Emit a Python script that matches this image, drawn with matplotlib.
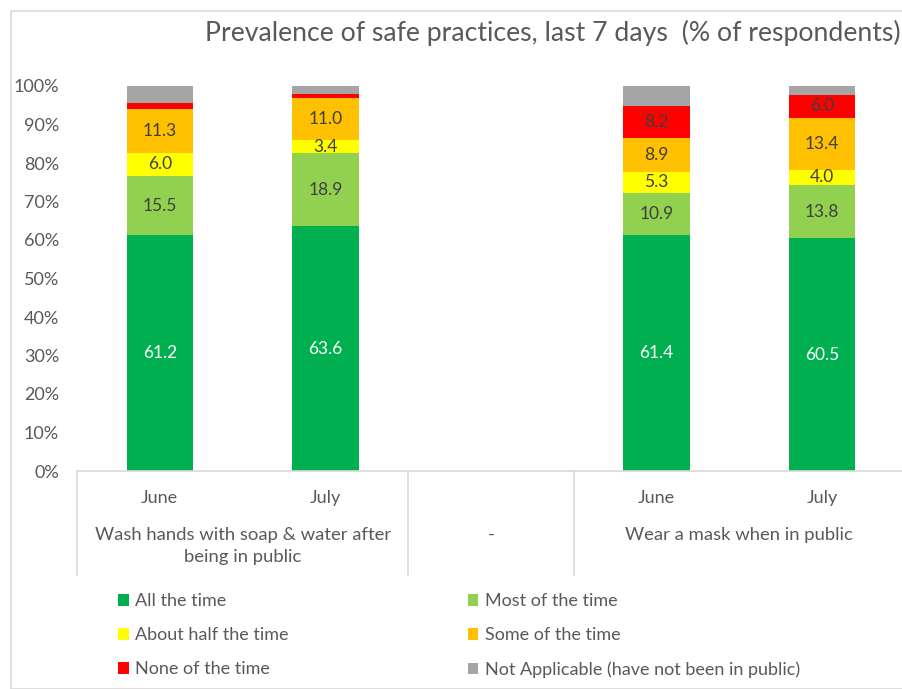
import matplotlib
matplotlib.use("Agg")
import matplotlib.pyplot as plt
from matplotlib.patches import Rectangle
from matplotlib.lines import Line2D

plt.rcParams['font.family'] = ['Lato', 'DejaVu Sans']

series = ["All the time", "Most of the time", "About half the time",
          "Some of the time", "None of the time",
          "Not Applicable (have not been in public)"]
colors = ["#00B050", "#92D050", "#FFFF00", "#FFC000", "#FF0000", "#A5A5A5"]

months = ["June", "July", "June", "July"]
groups = ["Wash hands with soap & water after\nbeing in public", "-", "Wear a mask when in public"]
positions = [0, 1, 3, 4]

all_time = [61.2, 63.6, 61.4, 60.5]
most_time = [15.5, 18.9, 10.9, 13.8]
half_time = [6.0, 3.4, 5.3, 4.0]
some_time = [11.3, 11.0, 8.9, 13.4]
none_time = [1.7, 0.9, 8.2, 6.0]
not_applicable = [4.3, 2.2, 5.3, 2.3]

values = [all_time, most_time, half_time, some_time, none_time, not_applicable]
show_label = [
    [True, True, True, True],
    [True, True, True, True],
    [True, True, True, True],
    [True, True, True, True],
    [False, False, True, True],
    [False, False, False, False],
]

TXT = "#595959"
fig = plt.figure(figsize=(9.03, 6.89), dpi=100)
fig.patches.append(Rectangle((11/903, 0), 1, 1 - 11/689, transform=fig.transFigure,
                             fill=False, edgecolor="#D9D9D9", linewidth=1.2))

ax = fig.add_axes([77/903, (689-471)/689, 828/903, 385/689])
ax.set_xlim(-0.5, 4.5)
ax.set_ylim(0, 100)

bottoms = [0, 0, 0, 0]
for i, (vals, col) in enumerate(zip(values, colors)):
    ax.bar(positions, vals, width=0.4, bottom=bottoms, color=col, label=series[i], zorder=2)
    for j, (p, v, b) in enumerate(zip(positions, vals, bottoms)):
        if show_label[i][j]:
            ax.text(p, b + v / 2, f"{v:.1f}", ha="center", va="center", fontsize=12.5,
                    color="white" if i == 0 else "#404040", zorder=3)
    bottoms = [b + v for b, v in zip(bottoms, vals)]

ax.set_yticks(range(0, 101, 10))
ax.set_yticklabels([f"{t}%" for t in range(0, 101, 10)], fontsize=13, color=TXT)
ax.tick_params(axis="y", length=0, pad=13)
ax.set_xticks([])
for s in ["top", "right", "left"]:
    ax.spines[s].set_visible(False)
ax.spines["bottom"].set_color("#D9D9D9")
ax.spines["bottom"].set_linewidth(1.2)

trans = ax.get_xaxis_transform()
for p, m in zip(positions, months):
    ax.text(p, -0.07, m, transform=trans, ha="center", va="center", fontsize=13, color=TXT)
group_x = [0.5, 2, 3.5]
for gx, g in zip(group_x, groups):
    ax.text(gx, -0.146, g, transform=trans, ha="center", va="top", fontsize=13.3,
            color=TXT, linespacing=1.45)
for sx in [-0.5, 1.5, 2.5, 4.5]:
    ax.add_line(Line2D([sx, sx], [0, -0.27], transform=trans, color="#D9D9D9",
                       linewidth=1.2, clip_on=False))

fig.text(0.997, 1 - 33/689, "Prevalence of safe practices, last 7 days  (% of respondents)",
         ha="right", va="center", fontsize=19.2, color=TXT)

handles, labels = ax.get_legend_handles_labels()
order = [0, 2, 4, 1, 3, 5]
leg = fig.legend([handles[i] for i in order], [labels[i] for i in order],
                 loc="upper left", bbox_to_anchor=(102/903, 1 - 577/689), ncol=2,
                 frameon=False, fontsize=13, handlelength=0.6, handleheight=0.6,
                 handletextpad=0.35, columnspacing=9.9, labelspacing=1.0,
                 labelcolor=TXT)

fig.savefig("out.png", dpi=100)
